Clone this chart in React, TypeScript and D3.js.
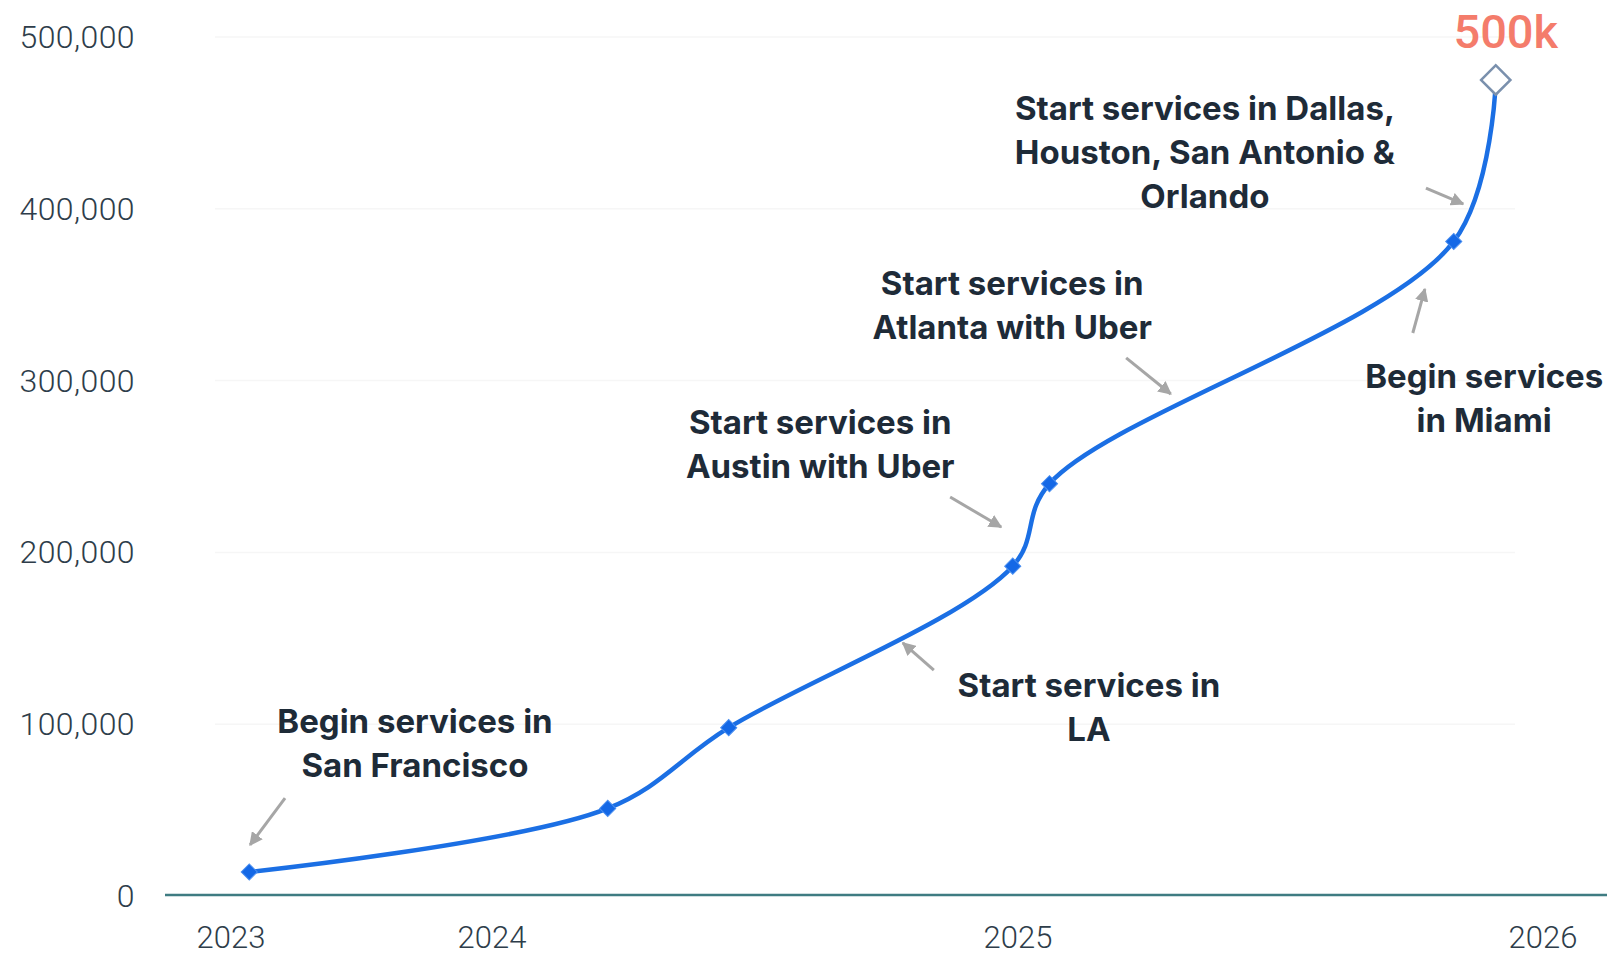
import React, { useEffect } from 'react';
import * as d3 from 'd3';

// Year tick labels on the x axis
const yearTicks = [2023, 2024, 2025, 2026];

// Y axis ticks (paid rides per week)
const valueTicks = [0, 100000, 200000, 300000, 400000, 500000];

// Milestones, as fractional years
const milestoneDates = [2023.07, 2024.22, 2024.45, 2024.99, 2025.06, 2025.83, 2025.91];
const milestoneRides = [14000, 51000, 98000, 192000, 240000, 381000, 475000];

const peakLabel = '500k';

// Annotations: label anchor in data space, arrow from/to in data space
const annotationLines = [
  ['Begin services in', 'San Francisco'],
  ['Start services in', 'LA'],
  ['Start services in', 'Austin with Uber'],
  ['Start services in', 'Atlanta with Uber'],
  ['Start services in Dallas,', 'Houston, San Antonio &', 'Orlando'],
  ['Begin services', 'in Miami'],
];
const annotationAnchors: [number, number][] = [
  [2023.705, 102000],
  [2025.135, 122800],
  [2024.624, 275900],
  [2024.989, 356800],
  [2025.356, 458700],
  [2025.888, 302700],
];
const arrowFrom: [number, number][] = [
  [2023.207, 57000],
  [2024.84, 131500],
  [2024.871, 232200],
  [2025.206, 313200],
  [2025.777, 412100],
  [2025.752, 327700],
];
const arrowTo: [number, number][] = [
  [2023.073, 29700],
  [2024.781, 147300],
  [2024.968, 214800],
  [2025.291, 292200],
  [2025.848, 402800],
  [2025.775, 353300],
];

const WIDTH = 1615;
const HEIGHT = 959;

const App: React.FC = () => {
  useEffect(() => {
    document.body.style.margin = '0';
  }, []);

  // the original axis is not evenly spaced, so use a piecewise scale
  const x = d3.scaleLinear().domain(yearTicks).range([231, 492, 1018, 1543]);
  const y = d3.scaleLinear().domain([0, 500000]).range([896, 37]);

  const points = milestoneDates.map((d, i) => [x(d), y(milestoneRides[i])] as [number, number]);

  const line = d3.line<[number, number]>().curve(d3.curveCatmullRom.alpha(0.5));
  const diamond = d3.symbol().type(d3.symbolSquare).size(130)();
  const openDiamond = d3.symbol().type(d3.symbolSquare).size(430)();

  const fmt = d3.format(',');
  const last = points[points.length - 1];

  return (
    <svg width={WIDTH} height={HEIGHT} style={{ display: 'block', background: '#fff' }}>
      <defs>
        <marker id="head" viewBox="0 0 10 10" refX="9" refY="5" markerWidth="4.5" markerHeight="4.5" orient="auto">
          <path d="M0,0 L10,5 L0,10 z" fill="#a6a6a6" />
        </marker>
      </defs>

      {/* faint gridlines */}
      {valueTicks.slice(1).map(t => (
        <line key={t} x1={215} x2={1515} y1={y(t)} y2={y(t)} stroke="#f6f6f6" strokeWidth={1.5} />
      ))}

      {/* y tick labels */}
      {valueTicks.map(t => (
        <text
          key={t}
          x={135}
          y={y(t)}
          textAnchor="end"
          dominantBaseline="central"
          fontFamily="Roboto"
          fontWeight={300}
          fontSize={32}
          letterSpacing={0.4}
          fill="#2e3d4a"
        >
          {fmt(t)}
        </text>
      ))}

      {/* x axis */}
      <line x1={165} x2={1607} y1={y(0) - 1} y2={y(0) - 1} stroke="#3f7c82" strokeWidth={2.5} />
      {yearTicks.map(t => (
        <text
          key={t}
          x={x(t)}
          y={937}
          textAnchor="middle"
          dominantBaseline="central"
          fontFamily="Roboto"
          fontWeight={300}
          fontSize={31}
          fill="#2e3d4a"
        >
          {t}
        </text>
      ))}

      {/* arrows */}
      {arrowFrom.map((f, i) => (
        <line
          key={i}
          x1={x(f[0])}
          y1={y(f[1])}
          x2={x(arrowTo[i][0])}
          y2={y(arrowTo[i][1])}
          stroke="#a6a6a6"
          strokeWidth={3}
          markerEnd="url(#head)"
        />
      ))}

      {/* growth line */}
      <path d={line(points) || ''} fill="none" stroke="#1b6fe4" strokeWidth={4.5} strokeLinecap="round" />

      {points.slice(0, -1).map((p, i) => (
        <path
          key={i}
          d={diamond}
          transform={`translate(${p[0]},${p[1]}) rotate(45)`}
          fill="#1468e6"
          stroke="#4b8ff0"
          strokeWidth={1}
        />
      ))}
      <path
        d={openDiamond}
        transform={`translate(${last[0]},${last[1]}) rotate(45)`}
        fill="#fff"
        stroke="#7a90ad"
        strokeWidth={2.5}
      />
      <text
        x={last[0] + 10}
        y={last[1] - 32}
        textAnchor="middle"
        fontFamily="Roboto"
        fontWeight={500}
        fontSize={47}
        fill="#f47c6b"
      >
        {peakLabel}
      </text>

      {/* annotation labels */}
      {annotationLines.map((lines, i) => (
        <text
          key={i}
          x={x(annotationAnchors[i][0])}
          y={y(annotationAnchors[i][1])}
          textAnchor="middle"
          dominantBaseline="central"
          fontFamily="Inter"
          fontWeight={700}
          fontSize={33}
          fill="#1e2b38"
        >
          {lines.map((l, j) => (
            <tspan key={j} x={x(annotationAnchors[i][0])} dy={j === 0 ? 0 : 44}>
              {l}
            </tspan>
          ))}
        </text>
      ))}
    </svg>
  );
};

export default App;
